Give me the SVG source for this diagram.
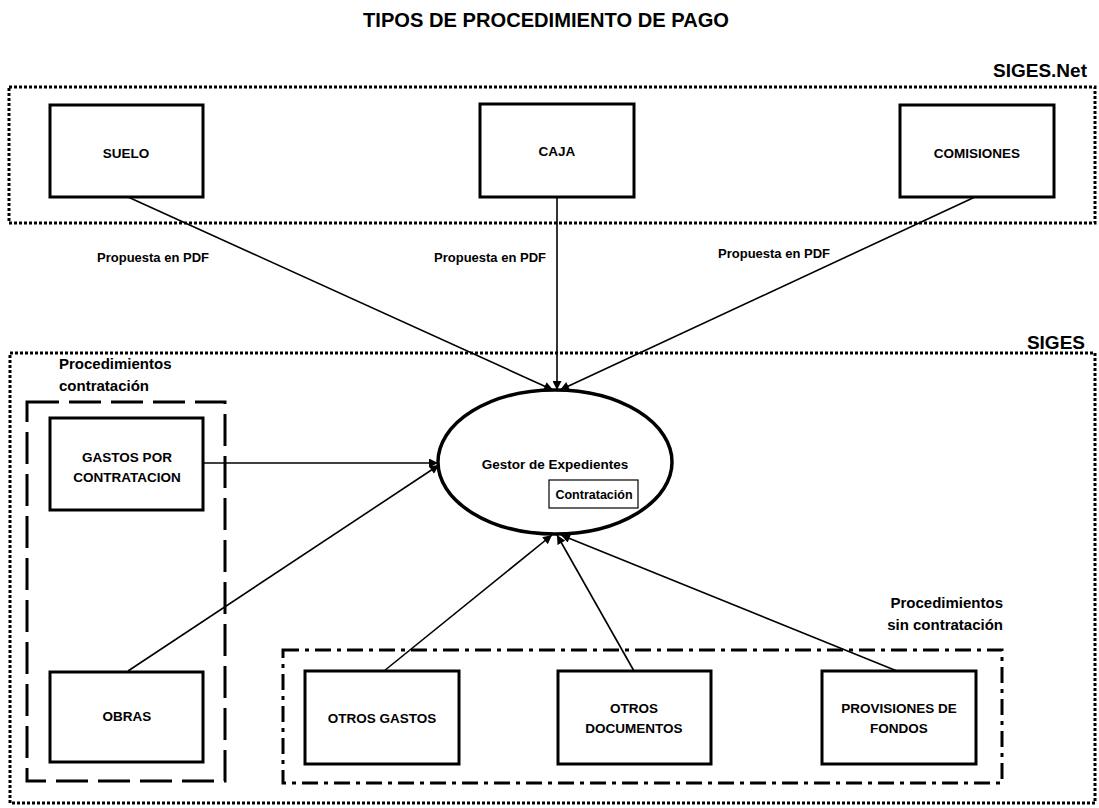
<svg xmlns="http://www.w3.org/2000/svg" width="1099" height="808" viewBox="0 0 1099 808">
<style>
text{font-family:"Liberation Sans",Arial,sans-serif;fill:#000;font-weight:bold}
.t{font-size:13.5px;text-anchor:middle}
.p{font-size:13px;text-anchor:middle}
.h{font-size:15px}
.box{fill:#fff;stroke:#000;stroke-width:3}
.edge{stroke:#000;stroke-width:1.6;fill:none}
.dot{fill:none;stroke:#000;stroke-width:3;stroke-dasharray:3 2}
</style>
<defs>
<marker id="ah" viewBox="0 0 10 10" refX="10" refY="5" markerWidth="10" markerHeight="9" markerUnits="userSpaceOnUse" orient="auto"><path d="M0,0 L10,5 L0,10 z" fill="#000"/></marker>
</defs>
<rect width="1099" height="808" fill="#fff"/>
<text x="546" y="27" style="font-size:20px;text-anchor:middle" textLength="366" lengthAdjust="spacingAndGlyphs">TIPOS DE PROCEDIMIENTO DE PAGO</text>
<text x="1087" y="77" style="font-size:19px;text-anchor:end">SIGES.Net</text>
<rect x="9" y="87" width="1086" height="136" class="dot"/>
<text x="1085" y="349" style="font-size:19px;text-anchor:end">SIGES</text>
<rect x="10" y="353" width="1085" height="450" class="dot"/>
<g id="grp-contratacion">
<rect x="27" y="402" width="198" height="379" fill="none" stroke="#000" stroke-width="3" stroke-dasharray="32 10"/>
<text x="59" y="369" class="h">Procedimientos</text>
<text x="59" y="391" class="h">contratación</text>
</g>
<g id="grp-sin">
<rect x="283" y="650" width="719" height="133" fill="none" stroke="#000" stroke-width="3" stroke-dasharray="16 6 4 6"/>
<text x="1003" y="608" class="h" style="text-anchor:end">Procedimientos</text>
<text x="1003" y="630" class="h" style="text-anchor:end">sin contratación</text>
</g>
<g id="connectors">
<line x1="128" y1="197" x2="553" y2="390" class="edge" marker-end="url(#ah)"/>
<line x1="557" y1="197" x2="557" y2="390" class="edge" marker-end="url(#ah)"/>
<line x1="975" y1="197" x2="560" y2="390" class="edge" marker-end="url(#ah)"/>
<line x1="203" y1="463" x2="438" y2="463" class="edge" marker-end="url(#ah)"/>
<line x1="128" y1="671" x2="439" y2="465" class="edge" marker-end="url(#ah)"/>
<line x1="384" y1="671" x2="552" y2="535" class="edge" marker-end="url(#ah)"/>
<line x1="634" y1="671" x2="557" y2="535" class="edge" marker-end="url(#ah)"/>
<line x1="897" y1="671" x2="561" y2="535" class="edge" marker-end="url(#ah)"/>
<text x="153" y="262" class="p">Propuesta en PDF</text>
<text x="490" y="262" class="p">Propuesta en PDF</text>
<text x="774" y="258" class="p">Propuesta en PDF</text>
</g>
<g id="suelo"><rect x="50" y="105" width="153" height="92" class="box"/><text x="126" y="158" class="t">SUELO</text></g>
<g id="caja"><rect x="480" y="104" width="154" height="93" class="box"/><text x="557" y="156" class="t">CAJA</text></g>
<g id="comisiones"><rect x="900" y="105" width="154" height="92" class="box"/><text x="977" y="158" class="t">COMISIONES</text></g>
<g id="gastos-contratacion"><rect x="50" y="418" width="153" height="92" class="box"/><text x="127" y="462" class="t">GASTOS POR</text><text x="127" y="482" class="t">CONTRATACION</text></g>
<g id="obras"><rect x="50" y="672" width="153" height="90" class="box"/><text x="127" y="721" class="t">OBRAS</text></g>
<g id="gestor"><ellipse cx="555" cy="462" rx="117" ry="72" fill="#fff" stroke="#000" stroke-width="3.5"/><text x="555" y="469" class="t">Gestor de Expedientes</text><rect x="549" y="480" width="89" height="28" fill="#fff" stroke="#000" stroke-width="1.2"/><text x="594" y="499" class="p" style="font-size:12.5px">Contratación</text></g>
<g id="otros-gastos"><rect x="305" y="671" width="154" height="93" class="box"/><text x="382" y="723" class="t">OTROS GASTOS</text></g>
<g id="otros-documentos"><rect x="558" y="671" width="153" height="93" class="box"/><text x="634" y="713" class="t">OTROS</text><text x="634" y="733" class="t">DOCUMENTOS</text></g>
<g id="provisiones"><rect x="822" y="671" width="154" height="93" class="box"/><text x="899" y="713" class="t">PROVISIONES DE</text><text x="899" y="733" class="t">FONDOS</text></g>
</svg>
